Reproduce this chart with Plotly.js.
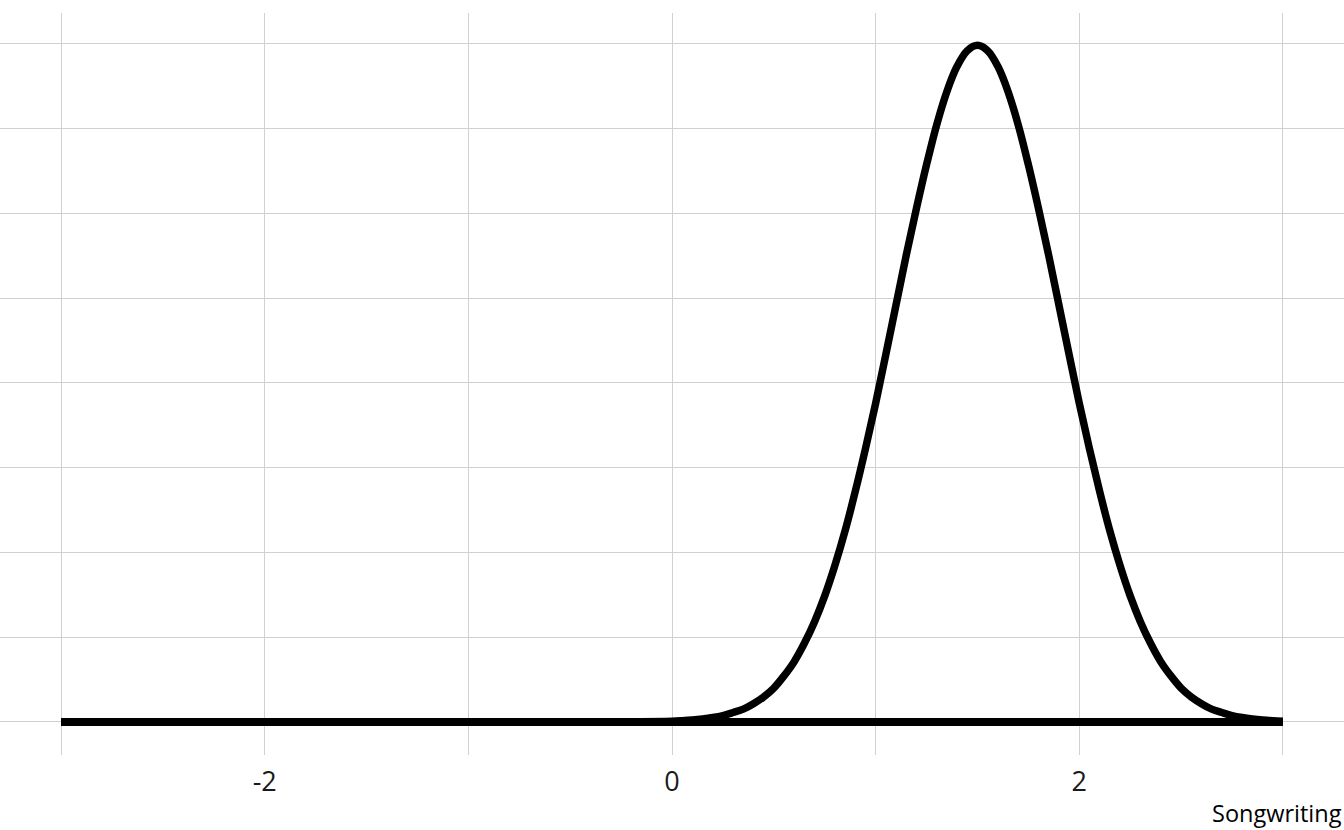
<!DOCTYPE html>
<html>
<head>
<meta charset="utf-8">
<script src="https://cdn.plot.ly/plotly-3.0.1.min.js"></script>
<style>
  html, body { margin: 0; padding: 0; background: #fff; }
  #plot { width: 1344px; height: 830px; }
</style>
</head>
<body>
<div id="plot"></div>
<script>
// density curve
const curveX = [-3, -2, -1, -0.5, -0.25,
  0.0, 0.05, 0.1, 0.15, 0.2, 0.25, 0.3, 0.35, 0.4, 0.45,
  0.5, 0.55, 0.6, 0.65, 0.7, 0.75, 0.8, 0.85, 0.9, 0.95,
  1.0, 1.05, 1.1, 1.15, 1.2, 1.25, 1.3, 1.35, 1.4, 1.45,
  1.5, 1.55, 1.6, 1.65, 1.7, 1.75, 1.8, 1.85, 1.9, 1.95,
  2.0, 2.05, 2.1, 2.15, 2.2, 2.25, 2.3, 2.35, 2.4, 2.45,
  2.5, 2.55, 2.6, 2.65, 2.7, 2.75, 2.8, 2.85, 2.9, 2.95, 3.0];
const curveY = [0, 0, 0, 0, 0.0003,
  0.0012, 0.0019, 0.0029, 0.0044, 0.0065, 0.0095, 0.014, 0.019, 0.027, 0.037,
  0.050, 0.068, 0.089, 0.116, 0.148, 0.186, 0.231, 0.282, 0.340, 0.403,
  0.470, 0.542, 0.615, 0.688, 0.757, 0.822, 0.881, 0.930, 0.967, 0.990,
  0.998, 0.990, 0.967, 0.930, 0.881, 0.822, 0.757, 0.688, 0.615, 0.542,
  0.470, 0.403, 0.340, 0.282, 0.231, 0.186, 0.148, 0.116, 0.089, 0.068,
  0.050, 0.037, 0.027, 0.019, 0.014, 0.0095, 0.0065, 0.0044, 0.0029, 0.0019, 0.0012];

// axis ticks
const xGrid = [-3, -2, -1, 0, 1, 2, 3];
const xLabels = ['', '-2', '', '0', '', '2', ''];
const yGrid = [0, 0.125, 0.25, 0.375, 0.5, 0.625, 0.75, 0.875, 1];
const xTitle = 'Songwriting';

// baseline under the curve spans the same x range
let xStart = curveX[0];
let xEnd = curveX[curveX.length - 1];

let curve = {
  type: 'scatter',
  mode: 'lines',
  x: curveX,
  y: curveY,
  line: {color: '#000000', width: 7.5, shape: 'spline', smoothing: 1},
  hoverinfo: 'skip'
};

let baseline = {
  type: 'scatter',
  mode: 'lines',
  x: [xStart, xEnd],
  y: [0, 0],
  line: {color: '#000000', width: 8},
  hoverinfo: 'skip'
};

let layout = {
  width: 1344,
  height: 830,
  margin: {l: 0, r: 0, t: 13, b: 75},
  paper_bgcolor: '#ffffff',
  plot_bgcolor: '#ffffff',
  showlegend: false,
  font: {family: 'Open Sans', color: '#000000'},
  xaxis: {
    range: [-3.3, 3.3],
    tickvals: xGrid,
    ticktext: xLabels,
    tickfont: {size: 27, color: '#1a1a1a'},
    ticks: '',
    showgrid: true,
    gridcolor: '#d0d0d0',
    gridwidth: 1,
    zeroline: false,
    showline: false,
    ticklabelstandoff: 8
  },
  yaxis: {
    range: [-0.0487, 1.0457],
    tickvals: yGrid,
    showticklabels: false,
    ticks: '',
    showgrid: true,
    gridcolor: '#d0d0d0',
    gridwidth: 1,
    zeroline: false,
    showline: false
  },
  annotations: [{
    text: xTitle,
    xref: 'paper', yref: 'paper',
    x: 1, y: 0,
    xanchor: 'right', yanchor: 'top',
    yshift: -40,
    showarrow: false,
    font: {size: 23.5, color: '#000000'}
  }]
};

Plotly.newPlot('plot', [baseline, curve], layout, {staticPlot: true});
</script>
</body>
</html>
